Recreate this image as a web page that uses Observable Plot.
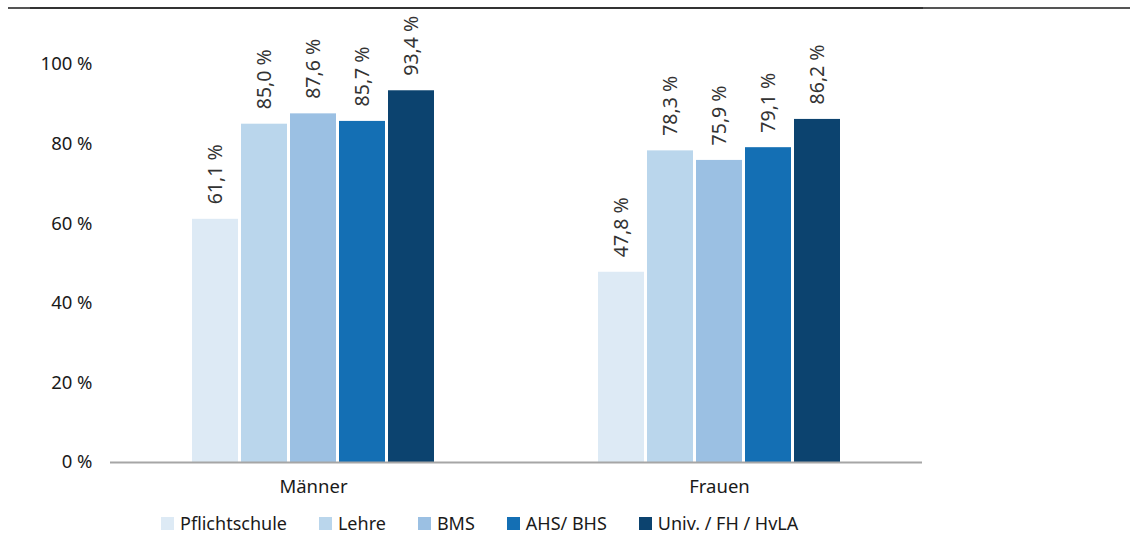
<!DOCTYPE html>
<html>
<head>
<meta charset="utf-8">
<script src="https://cdn.jsdelivr.net/npm/d3@7"></script>
<script src="https://cdn.jsdelivr.net/npm/@observablehq/plot@0.6"></script>
<style>
  html, body { margin: 0; padding: 0; background: #fff; }
  #wrap { position: relative; width: 1136px; height: 543px; font-family: "Noto Sans", sans-serif; }
  #topline { position: absolute; left: 8px; top: 7px; width: 1122px; height: 1.5px; background: #333; }
  #topline2 { position: absolute; left: 923px; top: 7px; width: 207px; height: 2px; background: #555; }
  #topline3 { position: absolute; left: 8px; top: 7px; width: 22px; height: 2px; background: #555; }
  #legend { display: flex; align-items: center; height: 40px; margin-left: 161px; font-size: 18px; color: #1a1a1a; }
  .item { display: flex; align-items: center; margin-right: 32px; }
  .sw { width: 13px; height: 13px; margin-right: 6px; }
</style>
</head>
<body>
<div id="wrap">
  <div id="topline"></div>
  <div id="topline2"></div>
  <div id="topline3"></div>
  <div id="chart"></div>
  <div id="legend"></div>
</div>
<script>
const groups = ["Männer", "Frauen"];
const levels = ["Pflichtschule", "Lehre", "BMS", "AHS/ BHS", "Univ. / FH / HvLA"];
const maenner = [61.1, 85.0, 87.6, 85.7, 93.4];
const frauen = [47.8, 78.3, 75.9, 79.1, 86.2];
const colors = ["#ddeaf5", "#bad6ec", "#9bc0e3", "#146fb4", "#0c436f"];
const yTicks = [0, 20, 40, 60, 80, 100];

const series = [maenner, frauen];
const data = groups.flatMap((g, gi) => levels.map((l, i) => ({group: g, level: l, value: series[gi][i]})));
const fmt = v => v.toFixed(1).replace(".", ",") + " %";

const chart = Plot.plot({
  width: 1136,
  height: 503,
  marginLeft: 109,
  marginRight: 214,
  marginTop: 64,
  marginBottom: 41,
  style: {fontFamily: "Noto Sans", fontSize: "18.5px", color: "#1a1a1a", background: "transparent"},
  fx: {domain: groups, padding: 0, axis: null},
  x: {domain: levels, paddingInner: 0.06, paddingOuter: 1.636, axis: null},
  y: {domain: [0, 100], ticks: yTicks, tickFormat: d => d + " %", tickSize: 0, tickPadding: 18, label: null},
  color: {domain: levels, range: colors},
  marks: [
    Plot.barY(data, {fx: "group", x: "level", y: "value", fill: "level"}),
    Plot.ruleY([0], {stroke: "#a6a6a6", strokeWidth: 2}),
    Plot.text(data, {fx: "group", x: "level", y: "value", text: d => fmt(d.value), rotate: -90, textAnchor: "start", lineAnchor: "middle", dy: -15, fontSize: 19.5, fill: "#333"}),
    Plot.text(groups, {fx: d => d, text: d => d, frameAnchor: "bottom", dy: 25, lineAnchor: "middle", fontSize: 18.5, fill: "#1a1a1a"})
  ]
});
document.getElementById("chart").appendChild(chart);

const legend = document.getElementById("legend");
levels.forEach((l, i) => {
  const item = document.createElement("div");
  item.className = "item";
  const sw = document.createElement("div");
  sw.className = "sw";
  sw.style.background = colors[i];
  const t = document.createElement("span");
  t.textContent = l;
  item.appendChild(sw);
  item.appendChild(t);
  legend.appendChild(item);
});
</script>
</body>
</html>
